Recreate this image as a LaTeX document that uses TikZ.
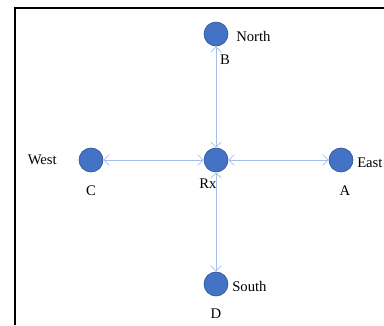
\documentclass[tikz,border=0pt]{standalone}
\usepackage{fontspec}
\setmainfont{Liberation Serif}
\usetikzlibrary{arrows.meta}
\definecolor{dotfill}{HTML}{4472C4}
\definecolor{dotedge}{HTML}{2F5597}
\definecolor{linkblue}{HTML}{A4BFEA}
\tikzset{
  dot/.style={circle, fill=dotfill, draw=dotedge, line width=0.5pt, minimum size=18pt, inner sep=0pt},
  lbl/.style={font=\fontsize{11}{12}\selectfont, inner sep=0pt, text=black},
  link/.style={draw=linkblue, line width=0.6pt, {Straight Barb[length=4pt,width=8pt]}-{Straight Barb[length=4pt,width=8pt]}}
}
\begin{document}
\begin{tikzpicture}[x=0.75pt,y=-0.75pt]
\useasboundingbox (0,0) rectangle (384,325);
\fill[white] (0,0) rectangle (384,325);
\draw[line width=1.5pt] (14.5,325) -- (14.5,7.5) -- (384,7.5);
\node[dot] (n) at (216,34) {};
\node[dot] (rx) at (216,160) {};
\node[dot] (w) at (91,160) {};
\node[dot] (e) at (341,160) {};
\node[dot] (s) at (216,284) {};
\node[lbl, anchor=west] (tn) at (236,36) {North};
\node[lbl] (tb) at (225,60) {B};
\node[lbl, anchor=east] (tw) at (57,160) {West};
\node[lbl] (tc) at (91,191) {C};
\node[lbl] (trx) at (208,184) {Rx};
\node[lbl, anchor=west] (te) at (357,163) {East};
\node[lbl] (ta) at (345,191) {A};
\node[lbl, anchor=west] (ts) at (232,286) {South};
\node[lbl] (td) at (216,314) {D};
\draw[link] (n) -- (rx);
\draw[link] (w) -- (rx);
\draw[link] (rx) -- (e);
\draw[link] (rx) -- (s);
\end{tikzpicture}
\end{document}
